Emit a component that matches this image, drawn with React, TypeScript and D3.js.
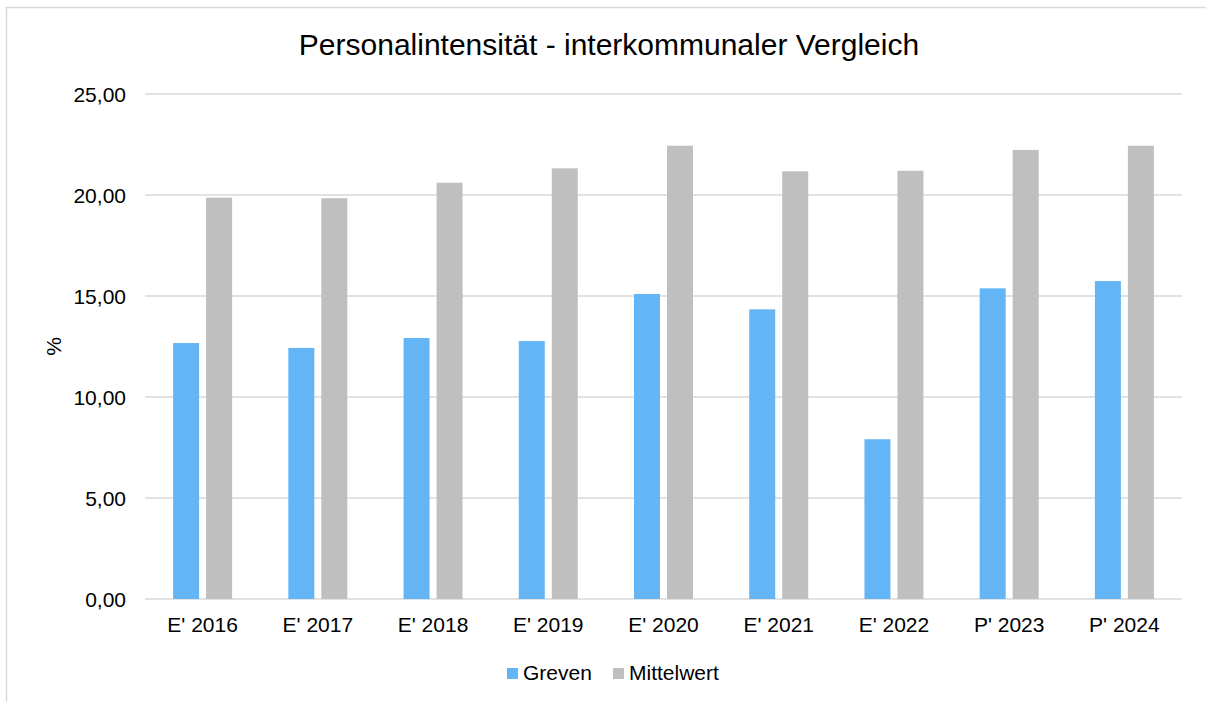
import React from "react";
import * as d3 from "d3";

const categories = ["E' 2016", "E' 2017", "E' 2018", "E' 2019", "E' 2020", "E' 2021", "E' 2022", "P' 2023", "P' 2024"];
const greven = [12.67, 12.43, 12.92, 12.77, 15.1, 14.34, 7.91, 15.38, 15.74];
const mittelwert = [19.87, 19.84, 20.61, 21.32, 22.44, 21.17, 21.2, 22.23, 22.44];
const seriesNames = ["Greven", "Mittelwert"];
const yTicks = [0, 5, 10, 15, 20, 25];

const colors = ["#64B5F6", "#BFBFBF"];
const font = "'Liberation Sans', Arial, sans-serif";

const W = 1206;
const H = 702;
const plot = { left: 145, right: 1182, top: 94, bottom: 599 };

const App = () => {
  const x0 = d3
    .scaleBand<string>()
    .domain(categories)
    .range([plot.left, plot.right])
    .paddingInner(0.488)
    .paddingOuter(0.244);
  const x1 = d3
    .scaleBand<string>()
    .domain(seriesNames)
    .range([0, x0.bandwidth()])
    .paddingInner(0.212);
  const y = d3.scaleLinear().domain([0, 25]).range([plot.bottom, plot.top]);
  const fmt = (v: number) => v.toFixed(2).replace(".", ",");

  const series = [greven, mittelwert];

  return (
    <svg
      width={W}
      height={H}
      style={{ position: "fixed", left: 0, top: 0, background: "#fff" }}
      fontFamily={font}
    >
      <rect x={0} y={0} width={W} height={H} fill="#fff" />
      {/* chart frame */}
      <rect x={6.5} y={7.5} width={W + 20} height={H + 20} fill="none" stroke="#D9D9D9" strokeWidth={1.5} />

      <text x={609} y={55} textAnchor="middle" fontSize={30} fill="#000">
        Personalintensität - interkommunaler Vergleich
      </text>

      {/* gridlines + y ticks */}
      {yTicks.map((t) => (
        <g key={t}>
          <line
            x1={plot.left}
            x2={plot.right}
            y1={y(t)}
            y2={y(t)}
            stroke="#D9D9D9"
            strokeWidth={1.5}
          />
          <text x={126} y={y(t) + 7.5} textAnchor="end" fontSize={21} fill="#000">
            {fmt(t)}
          </text>
        </g>
      ))}

      <text
        transform={`translate(61, ${(plot.top + plot.bottom) / 2}) rotate(-90)`}
        textAnchor="middle"
        fontSize={21}
        fill="#000"
      >
        %
      </text>

      {/* bars */}
      {categories.map((c, i) => (
        <g key={c} transform={`translate(${x0(c)},0)`}>
          {seriesNames.map((s, j) => (
            <rect
              key={s}
              x={x1(s)}
              y={y(series[j][i])}
              width={x1.bandwidth()}
              height={y(0) - y(series[j][i])}
              fill={colors[j]}
            />
          ))}
        </g>
      ))}

      {/* x labels */}
      {categories.map((c) => (
        <text
          key={c}
          x={(x0(c) ?? 0) + x0.bandwidth() / 2}
          y={632}
          textAnchor="middle"
          fontSize={21}
          fill="#000"
        >
          {c}
        </text>
      ))}

      {/* legend */}
      {seriesNames.map((s, j) => {
        const lx = j === 0 ? 507 : 613;
        return (
          <g key={s}>
            <rect x={lx} y={668} width={11} height={11} fill={colors[j]} />
            <text x={lx + 16} y={680} fontSize={21} fill="#000">
              {s}
            </text>
          </g>
        );
      })}
    </svg>
  );
};

export default App;
